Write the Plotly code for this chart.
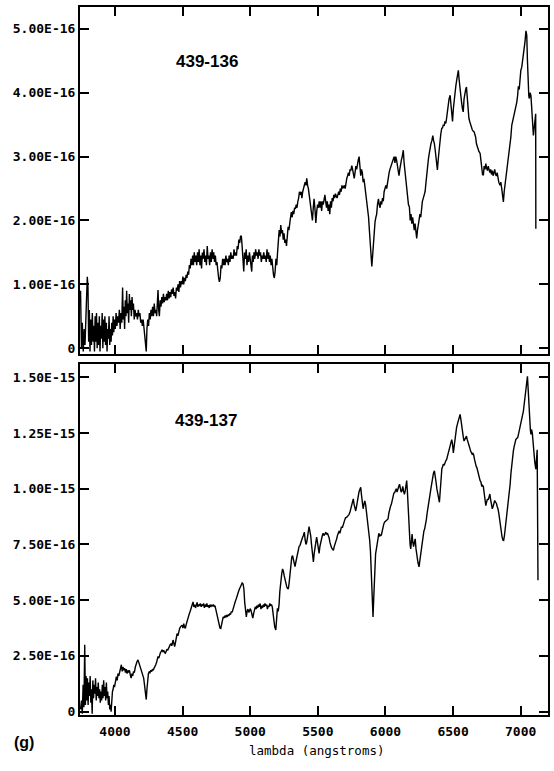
import plotly.graph_objects as go

# ---- data: (wavelength [A], flux [1e-16 erg/s/cm2/A]) ----
spectrum_top = [
    (3745, 0.9), (3752, 0.0), (3758, 0.4), (3765, -0.05), (3772, 0.3), (3778, 0.05),
    (3785, 0.5), (3790, 1.0), (3795, 1.12), (3800, 0.95), (3805, 0.1), (3810, 0.6),
    (3815, -0.05), (3820, 0.45), (3826, 0.05), (3832, 0.55), (3838, 0.1), (3843, 0.35),
    (3848, -0.05), (3853, 0.5), (3858, 0.1), (3863, 0.55), (3868, 0.0), (3873, 0.4),
    (3878, 0.05), (3884, 0.5), (3889, -0.05), (3894, 0.35), (3899, 0.15), (3905, 0.55),
    (3910, 0.0), (3915, 0.45), (3920, 0.1), (3925, 0.5), (3930, 0.05), (3936, 0.4),
    (3941, -0.05), (3946, 0.3), (3951, 0.15), (3956, 0.5), (3961, 0.05), (3966, 0.3),
    (3971, 0.1), (3976, 0.4), (3981, 0.2), (3986, 0.5), (3991, 0.25), (3996, 0.45),
    (4002, 0.3), (4008, 0.55), (4014, 0.35), (4020, 0.5), (4026, 0.4), (4032, 0.6),
    (4038, 0.3), (4044, 0.55), (4050, 0.4), (4056, 0.95), (4061, 0.45), (4066, 0.65),
    (4071, 0.3), (4076, 0.75), (4081, 0.5), (4086, 0.9), (4091, 0.55), (4096, 0.7),
    (4101, 0.4), (4106, 0.85), (4111, 0.6), (4116, 0.75), (4121, 0.5), (4126, 0.8),
    (4131, 0.6), (4136, 0.7), (4142, 0.45), (4148, 0.6), (4154, 0.5), (4160, 0.55),
    (4166, 0.45), (4172, 0.6), (4178, 0.5), (4184, 0.55), (4190, 0.4), (4196, 0.45),
    (4202, 0.35), (4208, 0.45), (4214, 0.3), (4220, 0.25), (4226, 0.05), (4231, -0.05),
    (4236, 0.3), (4242, 0.45), (4248, 0.35), (4254, 0.55), (4260, 0.45), (4266, 0.6),
    (4272, 0.5), (4278, 0.65), (4284, 0.5), (4290, 0.7), (4296, 0.55), (4302, 0.6),
    (4308, 0.5), (4314, 0.75), (4318, 0.91), (4323, 0.6), (4328, 0.5), (4334, 0.75),
    (4340, 0.65), (4346, 0.8), (4352, 0.7), (4358, 0.85), (4364, 0.72), (4370, 0.8),
    (4376, 0.75), (4382, 0.85), (4388, 0.75), (4394, 0.9), (4400, 0.78), (4406, 0.88),
    (4412, 0.8), (4418, 0.92), (4424, 0.85), (4430, 0.95), (4436, 0.82), (4442, 0.88),
    (4448, 0.78), (4454, 0.95), (4460, 0.9), (4466, 1.0), (4472, 0.88), (4478, 1.05),
    (4484, 0.95), (4490, 1.05), (4496, 1.0), (4502, 1.12), (4508, 1.0), (4514, 1.1),
    (4520, 1.05), (4526, 1.15), (4532, 1.1), (4538, 1.2), (4544, 1.15), (4550, 1.3),
    (4556, 1.25), (4562, 1.4), (4568, 1.3), (4574, 1.45), (4580, 1.3), (4586, 1.5),
    (4592, 1.35), (4598, 1.45), (4604, 1.3), (4610, 1.5), (4616, 1.35), (4622, 1.55),
    (4628, 1.3), (4634, 1.45), (4640, 1.25), (4646, 1.5), (4652, 1.4), (4658, 1.55),
    (4664, 1.35), (4670, 1.45), (4676, 1.3), (4682, 1.6), (4688, 1.4), (4694, 1.45),
    (4700, 1.3), (4706, 1.5), (4712, 1.35), (4718, 1.55), (4724, 1.4), (4730, 1.5),
    (4736, 1.35), (4742, 1.45), (4748, 1.3), (4754, 1.35), (4760, 1.15), (4766, 1.1),
    (4772, 1.04), (4778, 1.1), (4784, 1.3), (4790, 1.25), (4796, 1.4), (4802, 1.3),
    (4808, 1.4), (4814, 1.3), (4820, 1.45), (4826, 1.35), (4832, 1.4), (4838, 1.3),
    (4844, 1.45), (4850, 1.35), (4856, 1.5), (4862, 1.4), (4868, 1.45), (4874, 1.4),
    (4880, 1.55), (4886, 1.45), (4892, 1.5), (4898, 1.45), (4904, 1.6), (4910, 1.55),
    (4916, 1.7), (4922, 1.65), (4928, 1.75), (4934, 1.76), (4940, 1.6), (4946, 1.45),
    (4952, 1.2), (4958, 1.5), (4964, 1.4), (4970, 1.55), (4976, 1.3), (4982, 1.45),
    (4988, 1.35), (4994, 1.5), (5000, 1.4), (5006, 1.3), (5011, 1.2), (5016, 1.45),
    (5022, 1.35), (5028, 1.5), (5034, 1.4), (5040, 1.55), (5046, 1.45), (5052, 1.5),
    (5058, 1.4), (5064, 1.55), (5070, 1.45), (5076, 1.5), (5082, 1.35), (5088, 1.45),
    (5094, 1.4), (5100, 1.5), (5106, 1.4), (5112, 1.45), (5118, 1.35), (5124, 1.55),
    (5130, 1.4), (5136, 1.5), (5142, 1.35), (5148, 1.45), (5154, 1.3), (5160, 1.4),
    (5166, 1.2), (5172, 1.15), (5178, 1.1), (5184, 1.2), (5190, 1.4), (5196, 1.3),
    (5202, 1.5), (5208, 1.7), (5214, 1.85), (5220, 1.75), (5226, 1.93), (5232, 1.8),
    (5238, 1.85), (5244, 1.7), (5250, 1.8), (5256, 1.65), (5262, 1.7), (5268, 1.6),
    (5274, 1.8), (5280, 1.9), (5286, 1.85), (5292, 2.0), (5298, 2.05), (5304, 2.13),
    (5310, 2.05), (5316, 2.15), (5322, 2.1), (5328, 2.2), (5334, 2.18), (5340, 2.25),
    (5346, 2.2), (5352, 2.3), (5358, 2.35), (5364, 2.45), (5370, 2.4), (5376, 2.45),
    (5382, 2.35), (5388, 2.45), (5394, 2.5), (5400, 2.55), (5406, 2.6), (5412, 2.55),
    (5418, 2.66), (5424, 2.55), (5430, 2.5), (5436, 2.4), (5442, 2.3), (5448, 2.2),
    (5454, 2.05), (5460, 2.0), (5466, 2.2), (5472, 2.34), (5478, 2.2), (5485, 1.96),
    (5492, 2.15), (5498, 2.25), (5504, 2.2), (5510, 2.3), (5516, 2.2), (5522, 2.3),
    (5528, 2.15), (5534, 2.3), (5540, 2.25), (5546, 2.35), (5552, 2.4), (5558, 2.3),
    (5564, 2.2), (5570, 2.3), (5576, 2.15), (5582, 2.25), (5588, 2.1), (5594, 2.3),
    (5600, 2.2), (5606, 2.35), (5612, 2.3), (5618, 2.4), (5624, 2.35), (5630, 2.42),
    (5636, 2.38), (5642, 2.35), (5648, 2.4), (5654, 2.45), (5660, 2.4), (5666, 2.5),
    (5672, 2.45), (5678, 2.55), (5684, 2.5), (5690, 2.52), (5696, 2.55), (5702, 2.5),
    (5708, 2.6), (5714, 2.66), (5720, 2.7), (5726, 2.75), (5732, 2.7), (5738, 2.8),
    (5744, 2.78), (5751, 2.86), (5757, 2.8), (5763, 2.7), (5769, 2.66), (5775, 2.75),
    (5781, 2.85), (5787, 2.8), (5793, 2.9), (5799, 2.95), (5805, 3.0), (5811, 2.85),
    (5817, 2.7), (5823, 2.8), (5829, 2.75), (5835, 2.6), (5841, 2.65), (5847, 2.55),
    (5853, 2.45), (5859, 2.35), (5865, 2.25), (5869, 2.19), (5875, 2.05), (5881, 1.85),
    (5887, 1.6), (5893, 1.4), (5899, 1.28), (5905, 1.45), (5911, 1.7), (5917, 1.85),
    (5923, 1.98), (5929, 2.05), (5935, 2.1), (5941, 2.25), (5948, 2.34), (5954, 2.25),
    (5960, 2.2), (5966, 2.3), (5972, 2.25), (5978, 2.35), (5984, 2.3), (5990, 2.45),
    (5997, 2.5), (6003, 2.55), (6009, 2.5), (6015, 2.6), (6021, 2.7), (6027, 2.75),
    (6033, 2.8), (6040, 2.85), (6046, 2.86), (6052, 2.9), (6058, 2.95), (6064, 3.0),
    (6070, 2.9), (6076, 3.0), (6082, 2.95), (6088, 2.85), (6094, 2.75), (6100, 2.7),
    (6106, 2.8), (6112, 2.9), (6118, 2.95), (6124, 3.0), (6132, 3.1), (6138, 2.9),
    (6145, 2.75), (6152, 2.66), (6158, 2.45), (6164, 2.3), (6170, 2.25), (6177, 2.21),
    (6183, 2.0), (6189, 2.1), (6195, 1.95), (6201, 2.05), (6207, 1.9), (6213, 1.85),
    (6219, 1.95), (6225, 1.8), (6231, 1.72), (6237, 1.85), (6243, 1.95), (6249, 2.0),
    (6255, 2.1), (6261, 2.05), (6267, 2.2), (6273, 2.3), (6280, 2.35), (6287, 2.4),
    (6293, 2.45), (6300, 2.6), (6306, 2.75), (6312, 2.85), (6318, 2.97), (6324, 3.05),
    (6330, 3.15), (6336, 3.2), (6343, 3.25), (6350, 3.33), (6356, 3.25), (6362, 3.2),
    (6368, 3.1), (6374, 3.0), (6380, 2.85), (6384, 2.79), (6390, 2.95), (6396, 3.1),
    (6402, 3.25), (6409, 3.35), (6416, 3.44), (6422, 3.45), (6428, 3.5), (6434, 3.48),
    (6440, 3.55), (6446, 3.52), (6452, 3.6), (6458, 3.7), (6464, 3.85), (6470, 3.9),
    (6478, 3.96), (6484, 3.8), (6490, 3.7), (6496, 3.55), (6502, 3.75), (6508, 3.9),
    (6514, 4.0), (6520, 4.1), (6527, 4.2), (6533, 4.3), (6539, 4.35), (6545, 4.2),
    (6551, 4.05), (6557, 3.95), (6563, 3.85), (6569, 3.75), (6575, 3.7), (6581, 3.9),
    (6587, 4.0), (6593, 4.05), (6599, 4.09), (6605, 3.9), (6611, 3.75), (6617, 3.6),
    (6623, 3.55), (6629, 3.5), (6636, 3.45), (6642, 3.42), (6648, 3.4), (6655, 3.39),
    (6661, 3.35), (6667, 3.3), (6673, 3.2), (6679, 3.15), (6685, 3.1), (6691, 3.08),
    (6700, 3.05), (6706, 2.9), (6712, 2.8), (6718, 2.72), (6724, 2.71), (6730, 2.85),
    (6736, 2.8), (6742, 2.89), (6748, 2.82), (6754, 2.78), (6760, 2.85), (6766, 2.8),
    (6772, 2.75), (6778, 2.8), (6784, 2.72), (6790, 2.78), (6796, 2.7), (6802, 2.75),
    (6808, 2.8), (6814, 2.72), (6820, 2.7), (6826, 2.75), (6832, 2.65), (6838, 2.6),
    (6847, 2.55), (6853, 2.6), (6860, 2.5), (6866, 2.4), (6872, 2.29), (6878, 2.45),
    (6884, 2.55), (6890, 2.66), (6896, 2.75), (6902, 2.85), (6908, 2.95), (6914, 3.05),
    (6921, 3.15), (6927, 3.3), (6934, 3.49), (6940, 3.55), (6946, 3.6), (6952, 3.65),
    (6958, 3.7), (6964, 3.8), (6971, 3.85), (6977, 3.95), (6983, 4.1), (6989, 4.05),
    (6995, 4.3), (7001, 4.35), (7008, 4.4), (7014, 4.5), (7020, 4.53), (7026, 4.65),
    (7032, 4.8), (7039, 4.97), (7045, 4.9), (7050, 4.5), (7055, 4.1), (7060, 3.95),
    (7064, 3.91), (7070, 4.0), (7076, 3.95), (7082, 3.75), (7088, 3.45), (7094, 3.33),
    (7100, 3.45), (7106, 3.6), (7111, 3.67), (7112, 1.87),
]

spectrum_bottom = [
    (3745, 0.1), (3752, 0.5), (3758, -0.1), (3764, 1.2), (3770, 0.2), (3776, 3.0),
    (3781, 0.3), (3786, 1.6), (3791, 0.5), (3796, 1.5), (3801, 0.3), (3806, 1.3),
    (3811, 0.7), (3816, 1.6), (3821, 0.4), (3826, 1.0), (3831, -0.1), (3836, 1.4),
    (3841, 0.6), (3846, 1.2), (3851, 0.8), (3856, 1.5), (3861, 0.5), (3866, 1.1),
    (3871, 0.7), (3876, 1.3), (3881, 0.6), (3886, 1.0), (3891, 0.4), (3896, 0.9),
    (3901, 0.5), (3906, 1.2), (3911, 0.6), (3916, 1.4), (3921, 0.7), (3926, 1.1),
    (3931, 0.5), (3936, 1.3), (3941, 0.6), (3946, 0.9), (3951, 0.3), (3956, 0.7),
    (3961, 0.1), (3966, 0.3), (3971, 0.0), (3976, 0.6), (3981, 0.9), (3986, 1.0),
    (3991, 1.2), (3996, 1.1), (4001, 1.3), (4006, 1.5), (4010, 1.57), (4016, 1.4),
    (4022, 1.7), (4028, 1.6), (4034, 1.8), (4040, 1.9), (4047, 2.1), (4053, 1.8),
    (4059, 2.0), (4065, 1.85), (4071, 1.95), (4077, 1.75), (4083, 1.9), (4089, 1.7),
    (4095, 1.85), (4101, 1.75), (4107, 1.85), (4113, 1.65), (4119, 1.5), (4125, 1.7),
    (4131, 1.6), (4137, 1.8), (4143, 1.75), (4150, 2.0), (4156, 2.2), (4163, 2.25),
    (4170, 2.32), (4176, 2.2), (4182, 2.1), (4188, 1.95), (4194, 1.85), (4200, 1.8),
    (4206, 1.7), (4212, 1.5), (4218, 1.2), (4224, 0.8), (4231, 0.54), (4236, 1.0),
    (4241, 1.4), (4247, 1.7), (4253, 1.78), (4259, 1.75), (4265, 1.85), (4271, 1.8),
    (4277, 1.9), (4283, 1.85), (4289, 1.95), (4295, 2.0), (4301, 2.1), (4307, 2.2),
    (4313, 2.35), (4318, 2.47), (4324, 2.4), (4330, 2.55), (4336, 2.65), (4342, 2.7),
    (4348, 2.77), (4354, 2.7), (4360, 2.75), (4366, 2.65), (4372, 2.62), (4378, 2.7),
    (4384, 2.8), (4390, 2.75), (4396, 2.85), (4402, 2.9), (4408, 3.0), (4414, 3.05),
    (4420, 2.95), (4429, 3.21), (4435, 3.05), (4441, 2.92), (4447, 3.1), (4453, 3.3),
    (4459, 3.5), (4465, 3.4), (4471, 3.6), (4478, 3.73), (4484, 3.8), (4490, 3.85),
    (4496, 3.88), (4502, 3.75), (4508, 3.95), (4514, 3.8), (4520, 3.73), (4526, 3.9),
    (4532, 4.05), (4538, 4.2), (4544, 4.3), (4550, 4.4), (4556, 4.5), (4562, 4.6),
    (4568, 4.75), (4577, 4.92), (4583, 4.7), (4589, 4.8), (4595, 4.65), (4601, 4.75),
    (4607, 4.9), (4613, 4.7), (4619, 4.8), (4625, 4.75), (4631, 4.85), (4637, 4.7),
    (4643, 4.8), (4649, 4.75), (4655, 4.85), (4661, 4.65), (4667, 4.8), (4673, 4.7),
    (4679, 4.85), (4685, 4.7), (4691, 4.77), (4697, 4.65), (4703, 4.8), (4709, 4.7),
    (4715, 4.77), (4721, 4.75), (4727, 4.8), (4733, 4.7), (4739, 4.75), (4745, 4.6),
    (4751, 4.4), (4757, 4.2), (4763, 4.0), (4770, 3.85), (4776, 3.75), (4782, 3.73),
    (4788, 3.9), (4794, 4.1), (4800, 4.25), (4806, 4.2), (4812, 4.3), (4818, 4.22),
    (4824, 4.33), (4830, 4.25), (4836, 4.35), (4842, 4.3), (4848, 4.4), (4854, 4.35),
    (4860, 4.5), (4866, 4.45), (4872, 4.6), (4878, 4.7), (4884, 4.8), (4890, 4.95),
    (4896, 5.05), (4902, 5.2), (4908, 5.3), (4914, 5.4), (4920, 5.5), (4926, 5.6),
    (4932, 5.7), (4940, 5.77), (4947, 5.72), (4953, 5.5), (4959, 4.9), (4965, 4.4),
    (4971, 4.25), (4977, 4.5), (4983, 4.6), (4989, 4.45), (4995, 4.55), (5001, 4.62),
    (5007, 4.5), (5013, 4.3), (5019, 4.19), (5025, 4.4), (5031, 4.55), (5037, 4.7),
    (5043, 4.6), (5049, 4.75), (5055, 4.65), (5061, 4.8), (5067, 4.7), (5073, 4.85),
    (5079, 4.6), (5085, 4.75), (5091, 4.65), (5097, 4.8), (5103, 4.7), (5109, 4.85),
    (5115, 4.75), (5121, 4.8), (5127, 4.6), (5133, 4.75), (5139, 4.7), (5145, 4.85),
    (5151, 4.75), (5157, 4.8), (5163, 4.7), (5169, 4.4), (5175, 4.0), (5181, 3.8),
    (5189, 3.66), (5195, 4.2), (5201, 4.63), (5207, 4.5), (5213, 4.8), (5219, 5.4),
    (5225, 5.9), (5233, 6.19), (5239, 6.4), (5245, 6.3), (5251, 6.1), (5257, 5.9),
    (5263, 5.8), (5270, 5.6), (5276, 5.52), (5282, 5.52), (5288, 5.8), (5294, 6.2),
    (5300, 6.6), (5307, 6.93), (5313, 7.0), (5319, 6.8), (5325, 6.6), (5331, 6.5),
    (5337, 6.7), (5343, 6.9), (5349, 7.1), (5355, 7.3), (5361, 7.4), (5368, 7.46),
    (5374, 7.6), (5380, 7.7), (5386, 7.8), (5393, 7.9), (5400, 8.05), (5406, 7.7),
    (5412, 7.5), (5418, 7.6), (5424, 7.9), (5430, 8.2), (5435, 8.3), (5441, 8.1),
    (5447, 7.9), (5453, 7.5), (5459, 7.0), (5467, 6.71), (5473, 7.1), (5479, 7.4),
    (5485, 7.6), (5491, 7.83), (5497, 7.6), (5503, 7.3), (5509, 7.1), (5515, 7.4),
    (5521, 7.6), (5527, 7.8), (5533, 7.9), (5539, 8.0), (5545, 7.9), (5553, 7.97),
    (5559, 8.05), (5565, 7.95), (5571, 8.0), (5577, 7.9), (5583, 7.8), (5589, 7.6),
    (5595, 7.4), (5601, 7.35), (5607, 7.3), (5615, 7.23), (5621, 7.4), (5627, 7.5),
    (5633, 7.6), (5639, 7.75), (5645, 7.9), (5651, 8.0), (5657, 8.1), (5663, 8.0),
    (5669, 8.2), (5675, 8.3), (5681, 8.25), (5687, 8.4), (5693, 8.5), (5699, 8.6),
    (5705, 8.7), (5711, 8.7), (5718, 8.75), (5725, 8.79), (5731, 8.85), (5737, 8.94),
    (5743, 9.1), (5749, 9.3), (5755, 9.45), (5762, 9.54), (5768, 9.3), (5774, 9.1),
    (5780, 9.0), (5786, 9.2), (5792, 9.5), (5798, 9.7), (5804, 9.85), (5810, 9.95),
    (5817, 10.06), (5823, 9.7), (5829, 9.3), (5835, 9.1), (5841, 9.3), (5847, 9.45),
    (5853, 9.3), (5859, 9.0), (5865, 8.7), (5871, 8.4), (5877, 8.1), (5883, 7.7),
    (5889, 7.2), (5895, 6.2), (5901, 5.0), (5908, 4.25), (5914, 5.2), (5920, 6.4),
    (5927, 7.08), (5933, 7.3), (5939, 7.6), (5945, 7.8), (5951, 8.0), (5957, 7.85),
    (5963, 7.95), (5969, 7.9), (5975, 8.1), (5981, 8.3), (5987, 8.4), (5993, 8.5),
    (6000, 8.55), (6007, 8.57), (6013, 8.6), (6019, 8.64), (6025, 8.9), (6031, 9.1),
    (6037, 9.2), (6044, 9.31), (6050, 9.5), (6056, 9.65), (6062, 9.8), (6068, 9.83),
    (6074, 9.9), (6080, 10.0), (6086, 9.85), (6092, 10.05), (6098, 10.1), (6104, 10.2),
    (6110, 10.0), (6116, 9.85), (6122, 9.9), (6128, 10.1), (6134, 9.9), (6140, 9.75),
    (6146, 9.9), (6152, 10.2), (6157, 10.36), (6162, 9.9), (6167, 9.2), (6172, 8.5),
    (6177, 7.9), (6182, 7.5), (6187, 7.3), (6192, 7.6), (6197, 7.97), (6202, 7.6),
    (6208, 7.4), (6214, 7.6), (6220, 7.75), (6226, 7.3), (6232, 7.0), (6240, 6.7),
    (6248, 6.49), (6254, 6.8), (6260, 7.08), (6266, 7.3), (6272, 7.6), (6278, 7.9),
    (6284, 8.1), (6290, 8.2), (6296, 8.35), (6302, 8.6), (6308, 8.9), (6314, 9.2),
    (6320, 9.4), (6326, 9.6), (6330, 9.76), (6336, 10.0), (6342, 10.3), (6348, 10.5),
    (6355, 10.7), (6362, 10.8), (6368, 10.6), (6374, 10.3), (6380, 10.0), (6386, 9.8),
    (6393, 9.6), (6399, 9.39), (6405, 9.9), (6411, 10.5), (6417, 10.9), (6423, 11.0),
    (6428, 11.1), (6434, 11.05), (6440, 11.2), (6446, 11.25), (6452, 11.3), (6458, 11.45),
    (6464, 11.6), (6470, 11.7), (6478, 11.84), (6484, 12.0), (6490, 12.2), (6496, 12.0),
    (6502, 11.6), (6508, 11.9), (6514, 12.25), (6520, 12.55), (6526, 12.75), (6532, 12.9),
    (6538, 13.0), (6545, 13.15), (6552, 13.33), (6558, 13.1), (6564, 12.74), (6570, 12.5),
    (6576, 12.3), (6581, 12.14), (6587, 12.2), (6593, 12.3), (6599, 12.36), (6605, 12.2),
    (6611, 12.1), (6617, 12.0), (6623, 11.84), (6629, 11.7), (6635, 11.6), (6641, 11.55),
    (6647, 11.6), (6653, 11.5), (6659, 11.3), (6665, 11.1), (6671, 11.0), (6676, 10.95),
    (6682, 10.8), (6688, 10.6), (6694, 10.5), (6700, 10.36), (6706, 10.3), (6712, 10.1),
    (6718, 10.15), (6724, 10.1), (6730, 9.8), (6736, 9.5), (6742, 9.24), (6748, 9.4),
    (6754, 9.54), (6760, 9.5), (6766, 9.6), (6772, 9.76), (6778, 9.5), (6784, 9.3),
    (6790, 9.1), (6796, 9.2), (6802, 9.3), (6808, 9.47), (6814, 9.4), (6820, 9.35),
    (6826, 9.2), (6832, 9.1), (6838, 8.9), (6844, 8.6), (6850, 8.3), (6856, 8.0),
    (6862, 7.85), (6868, 7.7), (6874, 7.68), (6880, 7.9), (6886, 8.2), (6892, 8.57),
    (6898, 8.9), (6904, 9.2), (6910, 9.5), (6916, 9.76), (6922, 10.2), (6928, 10.7),
    (6934, 11.1), (6940, 11.4), (6946, 11.7), (6952, 11.9), (6958, 12.1), (6964, 12.2),
    (6970, 12.25), (6978, 12.29), (6984, 12.45), (6990, 12.6), (6996, 12.74), (7002, 12.9),
    (7008, 13.1), (7014, 13.3), (7020, 13.48), (7026, 13.8), (7032, 14.2), (7038, 14.6),
    (7044, 14.9), (7050, 15.04), (7055, 14.5), (7060, 13.8), (7066, 13.0), (7072, 12.6),
    (7076, 12.44), (7080, 12.66), (7086, 12.5), (7092, 12.0), (7098, 11.5), (7104, 11.2),
    (7112, 10.88), (7122, 11.75), (7128, 5.89),
]

panel_labels = ["439-136", "439-137"]
x_tick_vals = [4000, 4500, 5000, 5500, 6000, 6500, 7000]
top_tick_vals = [0, 1e-16, 2e-16, 3e-16, 4e-16, 5e-16]
top_tick_text = ["0", "1.00E-16", "2.00E-16", "3.00E-16", "4.00E-16", "5.00E-16"]
bot_tick_vals = [0, 2.5e-16, 5e-16, 7.5e-16, 1.0e-15, 1.25e-15, 1.5e-15]
bot_tick_text = ["0", "2.50E-16", "5.00E-16", "7.50E-16", "1.00E-15", "1.25E-15", "1.50E-15"]
x_title = "lambda (angstroms)"
figure_tag = "(g)"
UNIT = 1e-16

wl_top = [p[0] for p in spectrum_top]
fl_top = [p[1] * UNIT for p in spectrum_top]
wl_bot = [p[0] for p in spectrum_bottom]
fl_bot = [p[1] * UNIT for p in spectrum_bottom]

W, H = 554, 771
def px(v):
    return v / W
def py(v):
    return 1 - v / H

mono = dict(family="DejaVu Sans Mono", size=13, color="black", weight="bold")
line = dict(color="black", width=1.4)

fig = go.Figure()
fig.add_trace(go.Scatter(x=wl_top, y=fl_top, mode="lines", line=line,
                         xaxis="x", yaxis="y", showlegend=False, hoverinfo="skip"))
fig.add_trace(go.Scatter(x=wl_bot, y=fl_bot, mode="lines", line=line,
                         xaxis="x2", yaxis="y2", showlegend=False, hoverinfo="skip"))

common_axis = dict(showline=True, linecolor="black", linewidth=2, mirror="ticks",
                   ticks="inside", ticklen=9, tickwidth=1.5, tickcolor="black",
                   showgrid=False, zeroline=False, tickfont=mono)
xr = [3741, 7202]
xdom = [px(80), px(548)]

def label(text, x, y, font):
    return dict(text=text, x=px(x), y=py(y), xref="paper", yref="paper",
                xanchor="center", yanchor="middle", showarrow=False, font=font)

fig.update_layout(
    width=W, height=H, margin=dict(l=0, r=0, t=0, b=0),
    paper_bgcolor="white", plot_bgcolor="white",
    xaxis=dict(domain=xdom, range=xr, anchor="y", tickvals=x_tick_vals,
               showticklabels=False, **common_axis),
    yaxis=dict(domain=[py(356), py(7)], range=[-0.093e-16, 5.343e-16], anchor="x",
               tickvals=top_tick_vals, ticktext=top_tick_text, **common_axis),
    xaxis2=dict(domain=xdom, range=xr, anchor="y2", tickvals=x_tick_vals,
                ticktext=[str(v) for v in x_tick_vals], ticklabelstandoff=3, **common_axis),
    yaxis2=dict(domain=[py(719), py(366)], range=[-0.165e-16, 15.59e-16], anchor="x2",
                tickvals=bot_tick_vals, ticktext=bot_tick_text, **common_axis),
    annotations=[
        label("<b>%s</b>" % panel_labels[0], 207, 62,
              dict(family="Liberation Sans", size=17, color="black")),
        label("<b>%s</b>" % panel_labels[1], 206, 423,
              dict(family="Liberation Sans", size=17, color="black")),
        label("<b>%s</b>" % figure_tag, 24, 746,
              dict(family="Liberation Sans", size=16, color="black")),
        label(x_title, 316, 754, dict(family="DejaVu Sans Mono", size=12.5, color="black")),
    ],
)

fig.write_html("out.html")
